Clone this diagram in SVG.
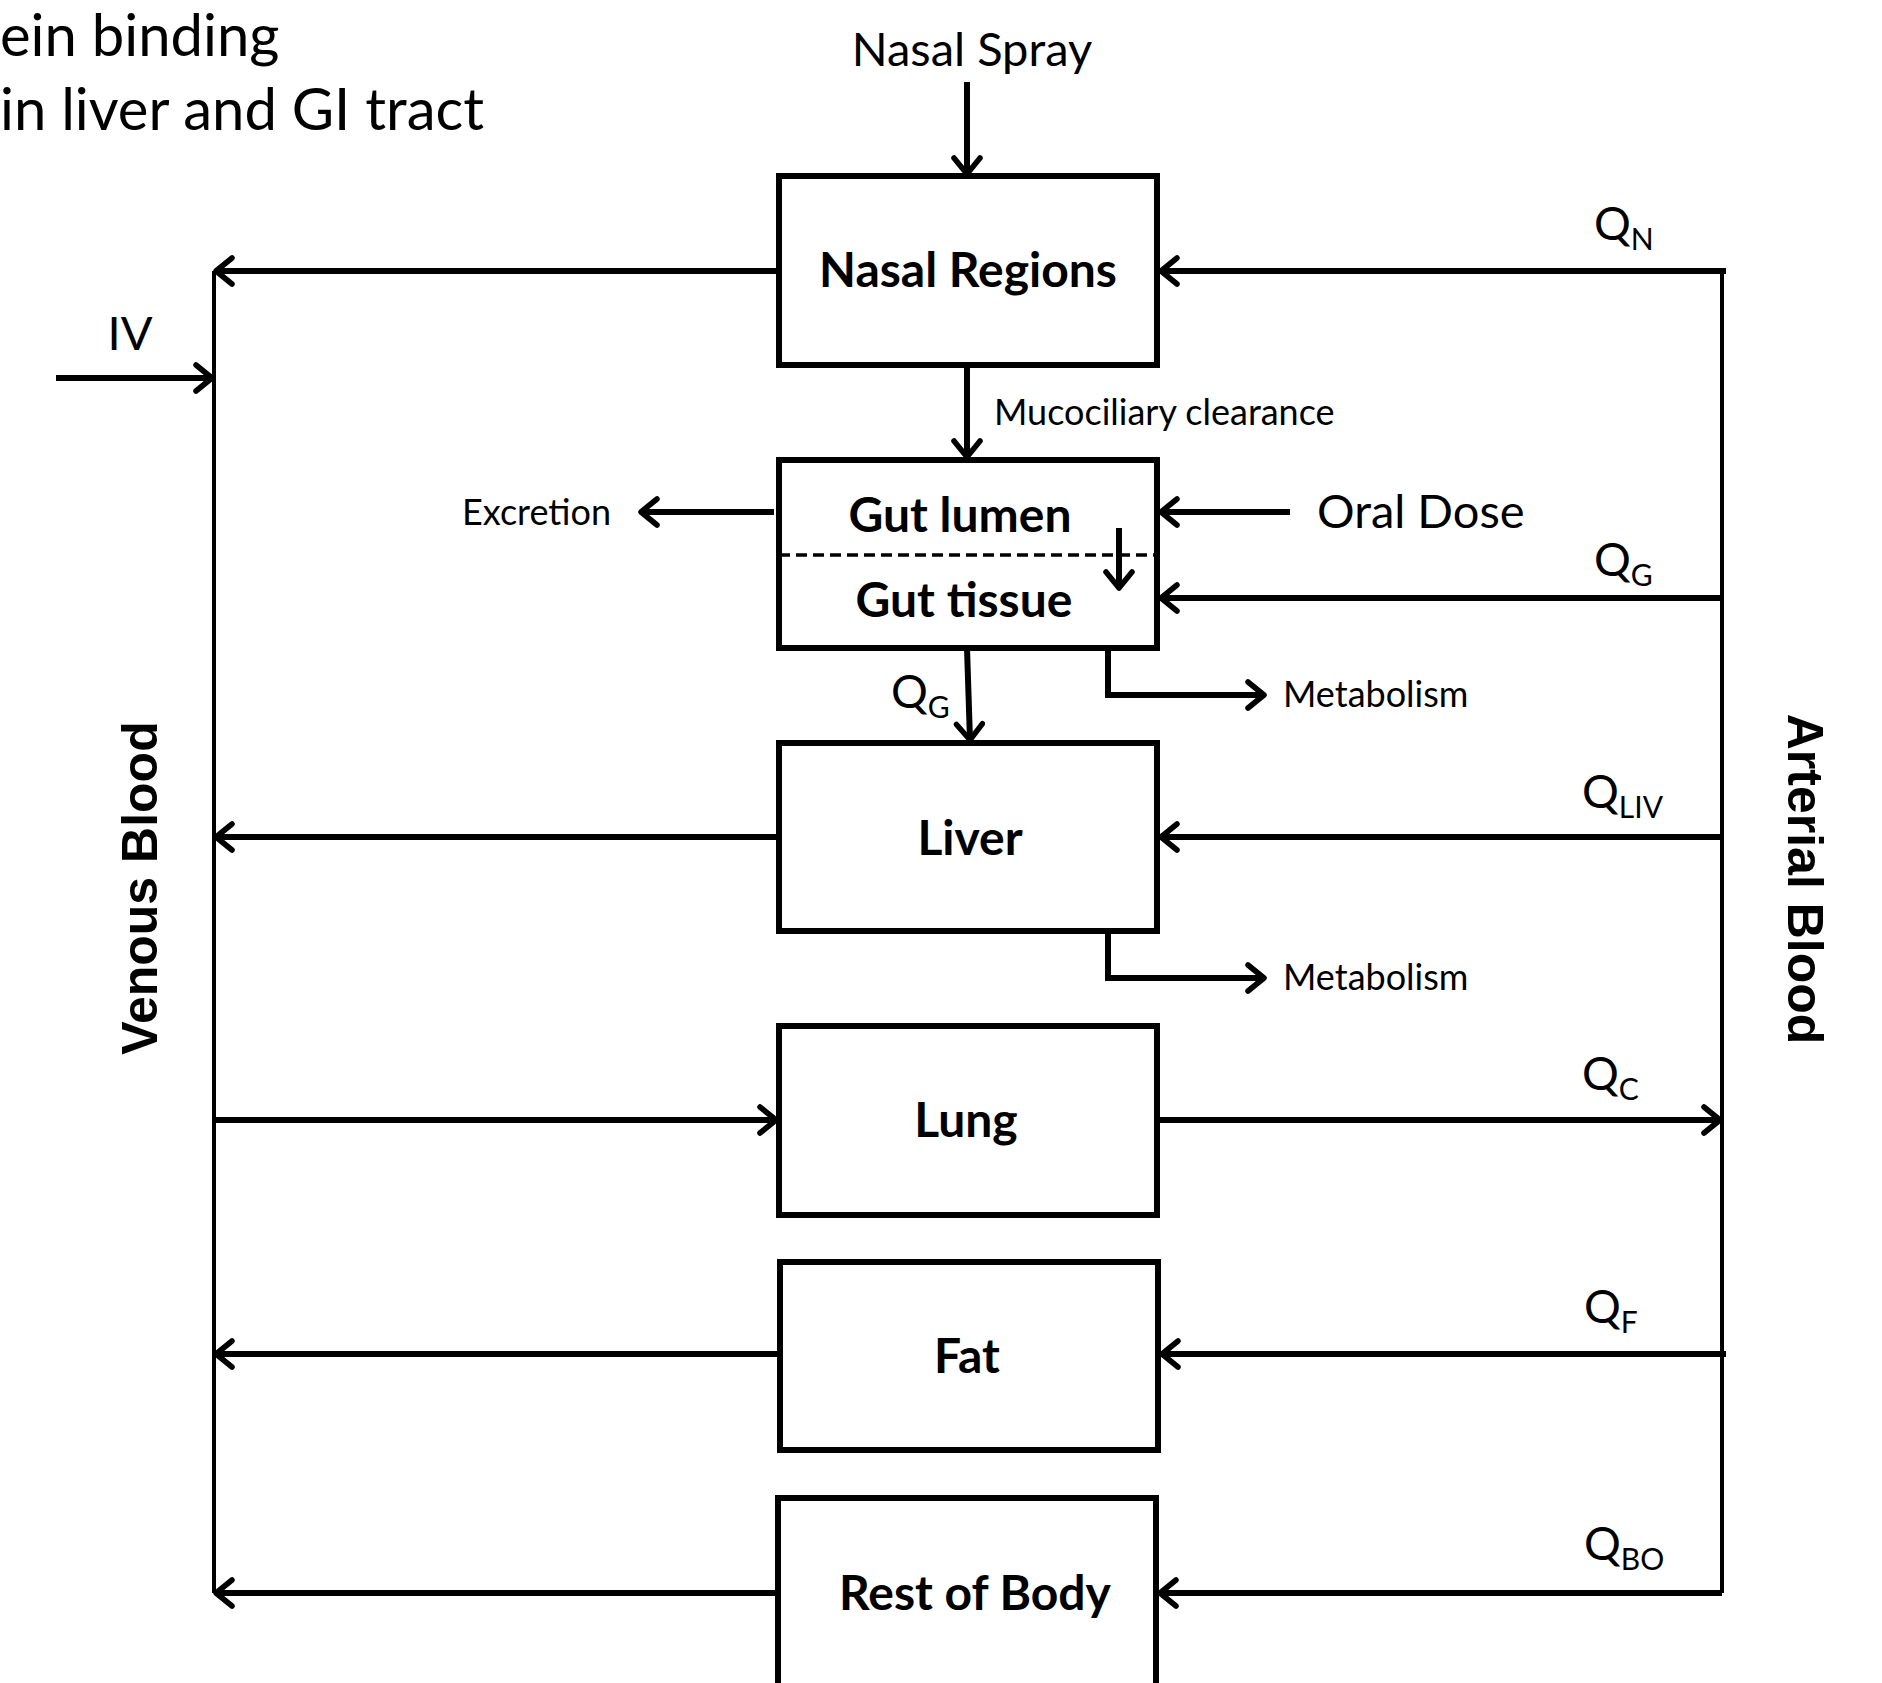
<svg xmlns="http://www.w3.org/2000/svg" width="1882" height="1683" viewBox="0 0 1882 1683">
<style>
  .box { fill: #fff; stroke: #000; stroke-width: 6; stroke-linejoin: miter; }
  .lbl { font-family: Lato, "Liberation Sans", sans-serif; font-weight: bold; font-size: 48px; text-anchor: middle; fill: #000; }
  .big { font-family: Lato, "Liberation Sans", sans-serif; font-size: 47px; fill: #000; }
  .sm { font-family: Lato, "Liberation Sans", sans-serif; font-size: 36px; fill: #000; }
  .q { font-family: Lato, "Liberation Sans", sans-serif; font-size: 46px; fill: #000; }
  .sub { font-size: 30px; }
  .side { font-family: "Liberation Sans", Arial, sans-serif; font-weight: bold; font-size: 50px; text-anchor: middle; fill: #000; }
  .top { font-family: Lato, "Liberation Sans", sans-serif; font-size: 58px; fill: #000; }
  .ln { fill: none; stroke: #000; stroke-width: 6; }
  .thin { fill: none; stroke: #000; stroke-width: 4; }
  .arr { marker-end: url(#ah); }
</style>
<defs>
  <marker id="ah" markerUnits="userSpaceOnUse" viewBox="0 0 24 32" refX="21" refY="16" markerWidth="24" markerHeight="32" orient="auto">
    <path d="M5,3 L21,16 L5,29" fill="none" stroke="#000" stroke-width="5.5" stroke-linecap="round" stroke-linejoin="round"/>
  </marker>
</defs>
<rect width="1882" height="1683" fill="#fff"/>

<g id="top-text">
  <text class="top" x="0" y="56">ein binding</text>
  <text class="top" x="0" y="130">in liver and GI tract</text>
</g>

<g id="connectors">
  <line class="thin" x1="214" y1="271" x2="214" y2="1593"/>
  <line class="thin" x1="1722" y1="271" x2="1722" y2="1593"/>
  <line class="ln arr" x1="967" y1="82" x2="967" y2="174"/>
  <line class="ln arr" x1="779" y1="271" x2="216" y2="271"/>
  <line class="ln arr" x1="1726" y1="271" x2="1161" y2="271"/>
  <line class="ln arr" x1="56" y1="378" x2="212" y2="378"/>
  <line class="ln arr" x1="967" y1="365" x2="967" y2="457"/>
  <line class="ln arr" x1="774" y1="512" x2="641" y2="512"/>
  <line class="ln arr" x1="1290" y1="512" x2="1161" y2="512"/>
  <line class="ln arr" x1="1722" y1="598" x2="1161" y2="598"/>
  <line class="ln arr" x1="967" y1="648" x2="970" y2="740"/>
  <polyline class="ln arr" points="1108,648 1108,695 1264,695"/>
  <line class="ln arr" x1="779" y1="837" x2="216" y2="837"/>
  <line class="ln arr" x1="1722" y1="837" x2="1161" y2="837"/>
  <polyline class="ln arr" points="1108,931 1108,978 1264,978"/>
  <line class="ln arr" x1="214" y1="1120" x2="776" y2="1120"/>
  <line class="ln arr" x1="1157" y1="1120" x2="1720" y2="1120"/>
  <line class="ln arr" x1="780" y1="1354" x2="216" y2="1354"/>
  <line class="ln arr" x1="1726" y1="1354" x2="1162" y2="1354"/>
  <line class="ln arr" x1="778" y1="1593" x2="216" y2="1593"/>
  <line class="ln arr" x1="1722" y1="1593" x2="1160" y2="1593"/>
</g>

<g id="nasal">
  <rect class="box" x="779" y="176" width="378" height="189"/>
  <text class="lbl" x="968" y="287">Nasal Regions</text>
</g>
<g id="gut">
  <rect class="box" x="779" y="460" width="378" height="188"/>
  <line x1="779" y1="555" x2="1157" y2="555" stroke="#000" stroke-width="3.5" stroke-dasharray="11,6"/>
  <line class="ln arr" x1="1119" y1="528" x2="1119" y2="588"/>
  <text class="lbl" x="960" y="532">Gut lumen</text>
  <text class="lbl" x="964" y="617">Gut tissue</text>
</g>
<g id="liver">
  <rect class="box" x="779" y="743" width="378" height="188"/>
  <text class="lbl" x="970" y="855">Liver</text>
</g>
<g id="lung">
  <rect class="box" x="779" y="1026" width="378" height="189"/>
  <text class="lbl" x="966" y="1137">Lung</text>
</g>
<g id="fat">
  <rect class="box" x="780" y="1262" width="378" height="188"/>
  <text class="lbl" x="967" y="1373">Fat</text>
</g>
<g id="rest">
  <rect class="box" x="778" y="1498" width="378" height="200"/>
  <text class="lbl" x="975" y="1610">Rest of Body</text>
</g>

<g id="labels">
  <text class="big" x="972" y="66" text-anchor="middle">Nasal Spray</text>
  <text class="big" x="130" y="350" text-anchor="middle">IV</text>
  <text class="sm" x="994" y="425">Mucociliary clearance</text>
  <text class="sm" x="462" y="525">Excretion</text>
  <text class="big" x="1317" y="528">Oral Dose</text>
  <text class="sm" x="1283" y="707">Metabolism</text>
  <text class="sm" x="1283" y="990">Metabolism</text>
  <text class="q" x="1594" y="240">Q<tspan class="sub" dy="10">N</tspan></text>
  <text class="q" x="1594" y="576">Q<tspan class="sub" dy="10">G</tspan></text>
  <text class="q" x="891" y="708">Q<tspan class="sub" dy="10">G</tspan></text>
  <text class="q" x="1582" y="808">Q<tspan class="sub" dy="10">LIV</tspan></text>
  <text class="q" x="1582" y="1090">Q<tspan class="sub" dy="10">C</tspan></text>
  <text class="q" x="1584" y="1323">Q<tspan class="sub" dy="10">F</tspan></text>
  <text class="q" x="1584" y="1560">Q<tspan class="sub" dy="10">BO</tspan></text>
  <text class="side" transform="translate(157,888) rotate(-90)">Venous Blood</text>
  <text class="side" transform="translate(1788,879) rotate(90)">Arterial Blood</text>
</g>
</svg>
